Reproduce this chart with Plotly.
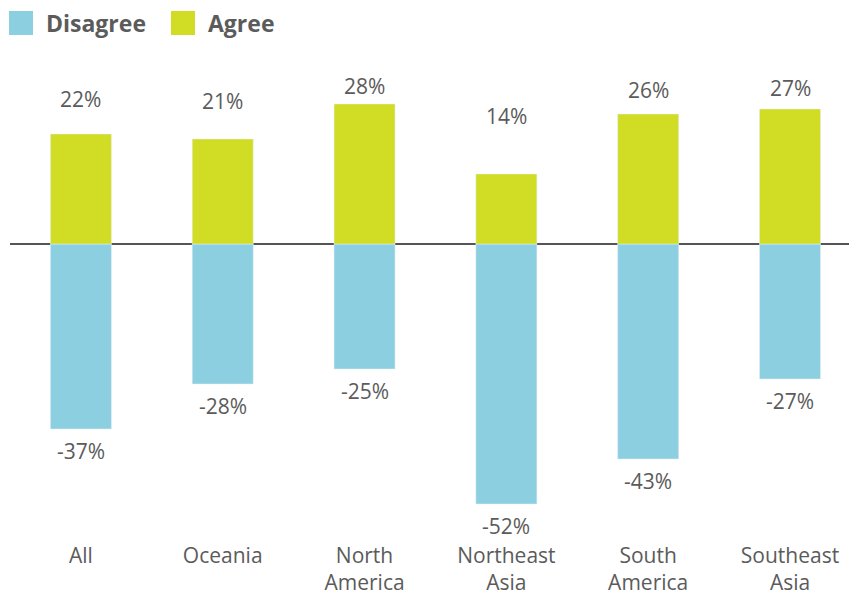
import plotly.graph_objects as go

categories = ["All", "Oceania", "North<br>America", "Northeast<br>Asia", "South<br>America", "Southeast<br>Asia"]
agree = [22, 21, 28, 14, 26, 27]
disagree = [-37, -28, -25, -52, -43, -27]

AGREE_COLOR = "#d1dd25"
DISAGREE_COLOR = "#8ccfe0"
TEXT_COLOR = "#5b5b5b"
FONT = "Open Sans"

# figure placed inside the 857x599 window (page body has an 8px margin)
W, H = 841, 591
ML, MR, MT, MB = 2, 0, 42, 69
PW, PH = W - ML - MR, H - MT - MB

fig = go.Figure()
fig.add_trace(go.Bar(x=categories, y=disagree, name="Disagree", marker_color=DISAGREE_COLOR,
                     width=0.43, showlegend=False, hoverinfo="skip"))
fig.add_trace(go.Bar(x=categories, y=agree, name="Agree", marker_color=AGREE_COLOR,
                     width=0.43, showlegend=False, hoverinfo="skip"))

annotations = []
for c, a, d in zip(categories, agree, disagree):
    annotations.append(dict(x=c, y=19.8 + 0.42 * a, text=f"{a}%", showarrow=False,
                            xref="x", yref="y", yanchor="middle",
                            font=dict(family=FONT, size=21, color=TEXT_COLOR)))
    annotations.append(dict(x=c, y=d - 4.3, text=f"{d}%", showarrow=False,
                            xref="x", yref="y", yanchor="middle",
                            font=dict(family=FONT, size=21, color=TEXT_COLOR)))

# legend drawn as squares + bold labels (pixel positions within the figure)
legend_items = [("Disagree", DISAGREE_COLOR, 1, 36), ("Agree", AGREE_COLOR, 163, 198)]
shapes = []
for name, color, sx, tx in legend_items:
    shapes.append(dict(type="rect", xref="paper", yref="paper",
                       x0=(sx - ML) / PW, x1=(sx + 24 - ML) / PW,
                       y0=(H - MB - 27) / PH, y1=(H - MB - 3) / PH,
                       fillcolor=color, line=dict(width=0), layer="above"))
    annotations.append(dict(x=(tx - ML) / PW, y=(H - MB - 15) / PH, xref="paper", yref="paper",
                            text=f"<b>{name}</b>", showarrow=False, xanchor="left", yanchor="middle",
                            font=dict(family=FONT, size=23, color=TEXT_COLOR)))

fig.update_layout(
    width=W, height=H,
    margin=dict(l=ML, r=MR, t=MT, b=MB, autoexpand=False),
    paper_bgcolor="white", plot_bgcolor="white",
    barmode="relative",
    annotations=annotations,
    shapes=shapes,
    showlegend=False,
    xaxis=dict(range=[-0.5, 5.416], showgrid=False, showline=False, ticks="",
               automargin=False, ticklabelstandoff=11,
               tickfont=dict(family=FONT, size=21, color=TEXT_COLOR), fixedrange=True),
    yaxis=dict(range=[-57.2, 38.8], showgrid=False, showticklabels=False, zeroline=True,
               automargin=False,
               zerolinecolor="#555555", zerolinewidth=2, fixedrange=True),
)

fig.write_html("out.html", config={"displayModeBar": False})
